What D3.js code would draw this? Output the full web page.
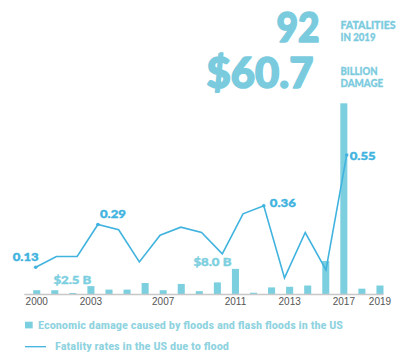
<!DOCTYPE html>
<html><head><meta charset="utf-8">
<script src="https://cdn.jsdelivr.net/npm/d3@7"></script>
<style>html,body{margin:0;padding:0;background:#fff;}svg{display:block;}</style>
</head><body>
<svg id="chart" width="416" height="362"></svg>
<script>
const years = [2000,2001,2002,2003,2004,2005,2006,2007,2008,2009,2010,2011,2012,2013,2014,2015,2016,2017,2018,2019];
const damage = [1.2,1.2,0.3,2.5,1.4,1.4,3.5,1.2,3.2,0.9,3.7,8.0,0.4,2.1,2.3,2.7,10.5,60.7,1.7,2.7];
const fatalityRates = [0.13,0.17,0.17,0.29,0.27,0.15,0.25,0.28,0.26,0.18,0.33,0.36,0.09,0.26,0.12,0.55];
const rateLabels = [{i:0,text:"0.13"},{i:3,text:"0.29"},{i:11,text:"0.36"},{i:15,text:"0.55"}];
const damageLabels = [{year:2003,text:"$2.5 B"},{year:2011,text:"$8.0 B"}];
const tickYears = [2000,2003,2007,2011,2014,2017,2019];
const tickLabels = ["2000","2003","2007","2011","2013","2017","2019"];

const barColor = "#7ccfdf", lineColor = "#40b3df", bigColor = "#7bcbde";
const svg = d3.select("#chart");
const x = d3.scaleBand().domain(years).range([27.7, 389]).paddingInner(0.61).paddingOuter(0.305);
const yBar = d3.scaleLinear().domain([0, 60.7]).range([294, 103.3]);
const xLine = d3.scalePoint().domain(d3.range(fatalityRates.length)).range([35.7, 346.7]);
const yLine = d3.scaleLinear().domain([0, 0.6]).range([302, 141.6]);

// bars
svg.append("g").selectAll("rect").data(years).join("rect")
  .attr("x", d => x(d)).attr("width", x.bandwidth())
  .attr("y", (d,i) => yBar(damage[i])).attr("height", (d,i) => yBar(0) - yBar(damage[i]))
  .attr("fill", barColor);

// axis
const axis = d3.axisBottom(x).tickValues(tickYears).tickSize(0).tickPadding(4)
  .tickFormat(d => tickLabels[tickYears.indexOf(d)]);
const ag = svg.append("g").attr("transform", "translate(0,294)").call(axis);
ag.select(".domain").attr("stroke", "#c8c8c8").attr("stroke-width", 1.5).attr("d", "M24.3,0.5H383.5");
ag.selectAll("text").attr("font-family", "Liberation Sans, Arial, sans-serif").attr("font-size", 10).attr("fill", "#555");

// line
const line = d3.line().x((d,i) => xLine(i)).y(d => yLine(d));
svg.append("path").datum(fatalityRates).attr("d", line)
  .attr("fill", "none").attr("stroke", lineColor).attr("stroke-width", 1.6).attr("stroke-linejoin", "miter");
svg.append("g").selectAll("circle").data(rateLabels).join("circle")
  .attr("cx", d => xLine(d.i)).attr("cy", d => yLine(fatalityRates[d.i])).attr("r", 1.8).attr("fill", lineColor);

const bold = "Lato, 'Open Sans', sans-serif";
const rateOffsets = {0:[-23,-6], 3:[2,-6], 11:[6,1], 15:[3,5]};
svg.append("g").selectAll("text").data(rateLabels).join("text")
  .attr("x", d => xLine(d.i) + rateOffsets[d.i][0]).attr("y", d => yLine(fatalityRates[d.i]) + rateOffsets[d.i][1])
  .attr("font-family", bold).attr("font-weight", 900).attr("font-size", 12).attr("fill", lineColor)
  .attr("stroke", lineColor).attr("stroke-width", 0.4)
  .attr("textLength", 26).attr("lengthAdjust", "spacingAndGlyphs")
  .text(d => d.text);

const dmgOffsets = {2003:[-34,-2.5], 2011:[-38.5,-2.5]};
svg.append("g").selectAll("text").data(damageLabels).join("text")
  .attr("x", d => x(d.year) + dmgOffsets[d.year][0])
  .attr("y", d => yBar(damage[years.indexOf(d.year)]) + dmgOffsets[d.year][1])
  .attr("font-family", bold).attr("font-weight", 900).attr("font-size", 12).attr("fill", barColor)
  .attr("stroke", barColor).attr("stroke-width", 0.4)
  .attr("textLength", 38).attr("lengthAdjust", "spacingAndGlyphs")
  .text(d => d.text);

// headline numbers
svg.append("text").attr("x", 276.5).attr("y", 42)
  .attr("font-family", bold).attr("font-weight", 900).attr("font-size", 41).attr("fill", bigColor)
  .attr("stroke", bigColor).attr("stroke-width", 1.6).attr("stroke-linejoin", "round")
  .attr("textLength", 43).attr("lengthAdjust", "spacingAndGlyphs").text("92");
svg.append("text").attr("x", 206.5).attr("y", 88)
  .attr("font-family", bold).attr("font-weight", 900).attr("font-size", 42).attr("fill", bigColor)
  .attr("stroke", bigColor).attr("stroke-width", 1.6).attr("stroke-linejoin", "round")
  .attr("textLength", 107).attr("lengthAdjust", "spacingAndGlyphs").text("$60.7");
const small = [["FATALITIES",28.7,55],["IN 2019",41.3,35],["BILLION",74.7,37],["DAMAGE",87,42.7]];
svg.append("g").selectAll("text").data(small).join("text")
  .attr("x", 340.5).attr("y", d => d[1]).attr("font-family", bold).attr("font-weight", 900)
  .attr("font-size", 11).attr("fill", bigColor).attr("stroke", bigColor).attr("stroke-width", 0.3)
  .attr("textLength", d => d[2]).attr("lengthAdjust", "spacingAndGlyphs").text(d => d[0]);

// legend
const narrow = "'Liberation Sans Narrow', 'Roboto Condensed', Roboto, sans-serif";
svg.append("rect").attr("x", 25).attr("y", 321.7).attr("width", 7.7).attr("height", 6.7).attr("fill", barColor);
svg.append("text").attr("x", 38).attr("y", 328.7).attr("font-family", narrow).attr("font-weight", 700)
  .attr("font-size", 11.5).attr("fill", "#8fd3e0").attr("textLength", 305).attr("lengthAdjust", "spacingAndGlyphs")
  .text("Economic damage caused by floods and flash floods in the US");
svg.append("line").attr("x1", 25).attr("x2", 46).attr("y1", 346.7).attr("y2", 346.7)
  .attr("stroke", lineColor).attr("stroke-width", 1.3);
svg.append("text").attr("x", 55).attr("y", 349.5).attr("font-family", narrow).attr("font-weight", 700)
  .attr("font-size", 11.5).attr("fill", "#8fd3e0").attr("textLength", 174).attr("lengthAdjust", "spacingAndGlyphs")
  .text("Fatality rates in the US due to flood");
</script>
</body></html>
